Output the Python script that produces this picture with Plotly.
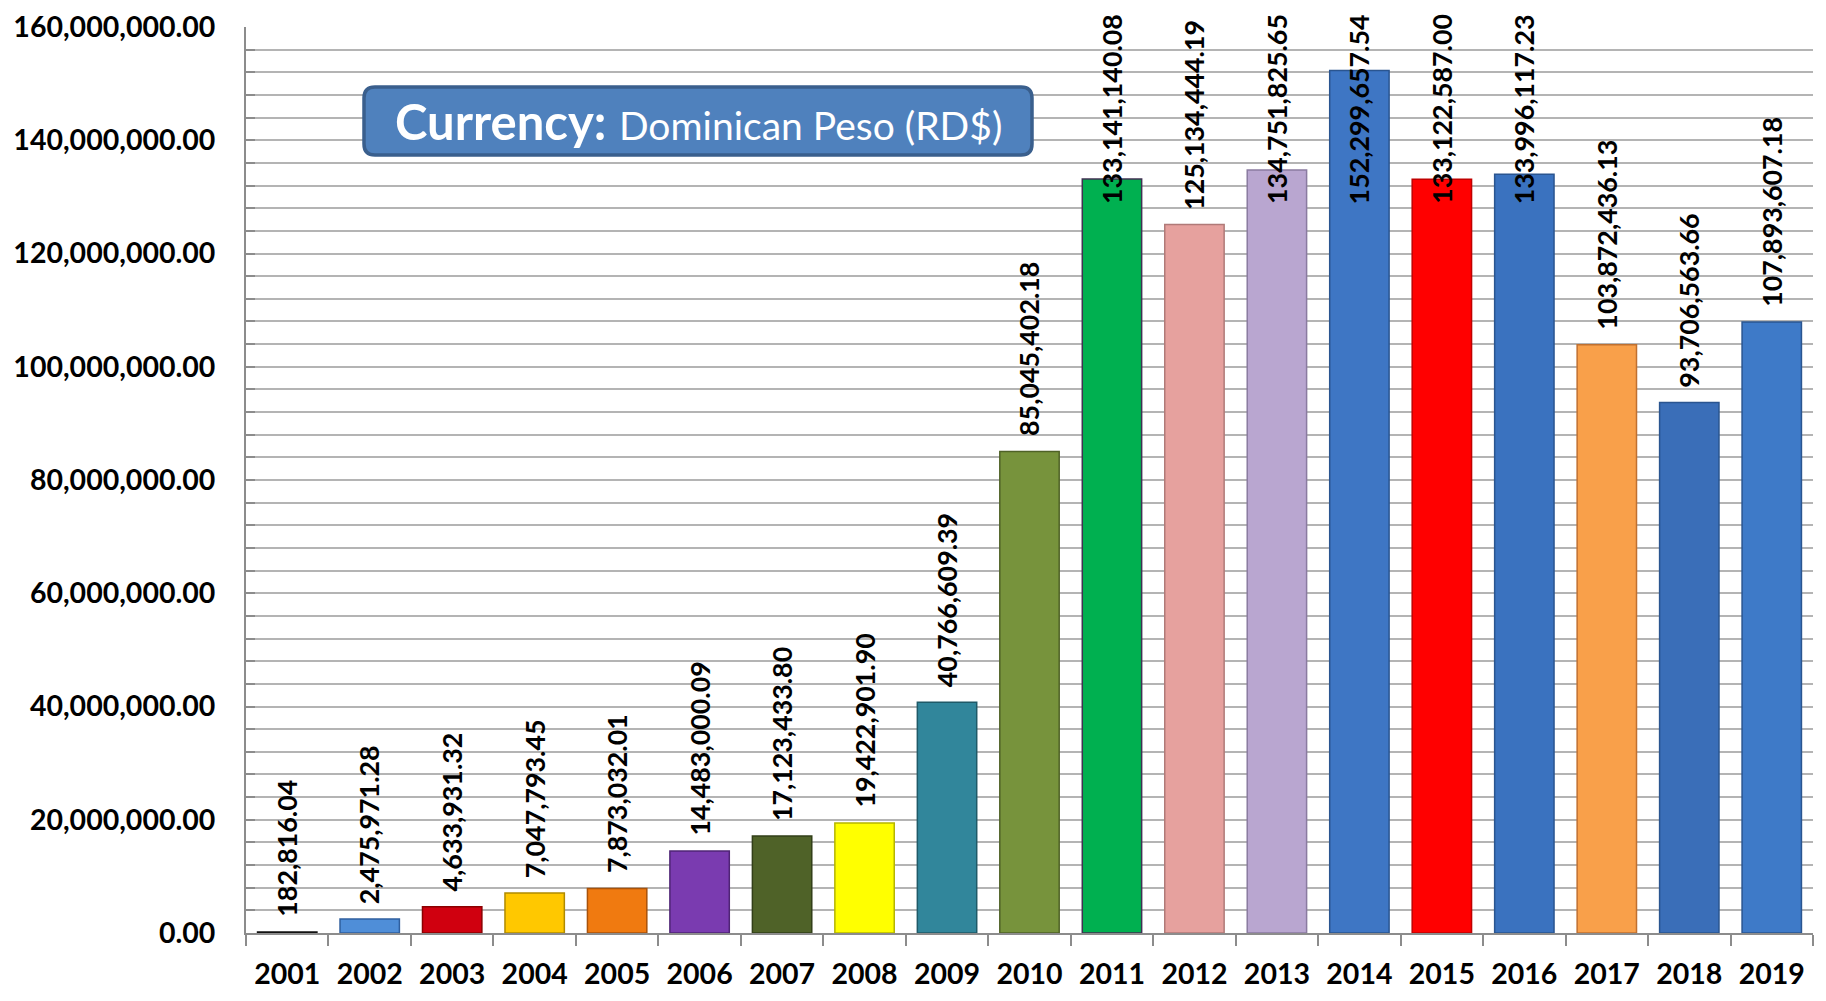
import plotly.graph_objects as go

years = ["2001", "2002", "2003", "2004", "2005", "2006", "2007", "2008", "2009", "2010",
         "2011", "2012", "2013", "2014", "2015", "2016", "2017", "2018", "2019"]
amounts = [182816.04, 2475971.28, 4633931.32, 7047793.45, 7873032.01, 14483000.09,
           17123433.80, 19422901.90, 40766609.39, 85045402.18, 133141140.08,
           125134444.19, 134751825.65, 152299657.54, 133122587.00, 133996117.23,
           103872436.13, 93706563.66, 107893607.18]
bar_colors = ["#262626", "#4F8ED8", "#D0000F", "#FFC800", "#F07A10", "#7A3BB0", "#4F6228",
              "#FFFF00", "#31869B", "#77933C", "#00B050", "#E6A19E", "#B9A6D0", "#3E76C4",
              "#FF0000", "#3A72BF", "#F9A04A", "#3A6EB8", "#3E7AC8"]
edge_colors = ["#111111", "#2F5F9F", "#8B0000", "#B08A00", "#A8520A", "#4F2475", "#323F19",
               "#B5B500", "#1F5A68", "#4F6227", "#403152", "#B07A78", "#8A7BA0", "#2A5590",
               "#C00000", "#2A5590", "#C07030", "#2A5590", "#2A5590"]

# the html page body has an 8px margin, so the figure is drawn 8px in from the window corner
OFF = 8
W, H = 1826 - 2 * OFF, 1001 - 2 * OFF
L, R, T, B = 238, 5, 19, 60
plot_w, plot_h = W - L - R, H - T - B
ymax = 160e6
px_per_unit = plot_h / ymax

fig = go.Figure()
fig.add_trace(go.Bar(
    x=years, y=amounts,
    marker=dict(color=bar_colors, line=dict(color=edge_colors, width=1.5)),
    width=0.72, hoverinfo="x+y"
))

# data labels, pushed down when they would run past the top (like Excel does)
label_size = 26.8
for i, v in enumerate(amounts):
    txt = f"{v:,.2f}"
    n_dig = sum(c.isdigit() for c in txt)
    est_len = label_size * (0.58 * n_dig + 0.29 * (len(txt) - n_dig))
    top_px = T + plot_h - v * px_per_unit - 16 - est_len
    lab_font = dict(family="Lato", size=label_size, color="black", weight="bold")
    if top_px < 6:
        fig.add_annotation(x=i, y=ymax, xanchor="center", yanchor="top", yshift=15, text=txt,
                           textangle=-90, showarrow=False, font=lab_font)
    else:
        fig.add_annotation(x=i, y=v, xanchor="center", yanchor="bottom", yshift=13, text=txt,
                           textangle=-90, showarrow=False, font=lab_font)

# currency box with rounded corners, paper coords (pixel values are figure coords)
bx0, bx1, by0, by1 = 356, 1024, 79, 147
rad = 11
def px(xp):
    return (xp - L) / plot_w
def py(yp):
    return (T + plot_h - yp) / plot_h
rx, ry = rad / plot_w, rad / plot_h
x0, x1, y0, y1 = px(bx0), px(bx1), py(by1), py(by0)
path = (f"M {x0+rx},{y0} L {x1-rx},{y0} Q {x1},{y0} {x1},{y0+ry} "
        f"L {x1},{y1-ry} Q {x1},{y1} {x1-rx},{y1} L {x0+rx},{y1} "
        f"Q {x0},{y1} {x0},{y1-ry} L {x0},{y0+ry} Q {x0},{y0} {x0+rx},{y0} Z")
fig.add_shape(type="path", path=path, xref="paper", yref="paper",
              fillcolor="#4F81BD", line=dict(color="#3A5F8D", width=3.5), layer="above")
fig.add_annotation(x=(x0 + x1) / 2, y=(y0 + y1) / 2, xref="paper", yref="paper",
                   xanchor="center", yanchor="middle",
                   text="<b>Currency:</b> <span style='font-size:39px'>Dominican Peso (RD$)</span>",
                   showarrow=False, font=dict(family="Lato", size=49, color="white"))

fig.update_layout(
    width=W, height=H,
    margin=dict(l=L, r=R, t=T, b=B, autoexpand=False),
    paper_bgcolor="white", plot_bgcolor="white",
    showlegend=False,
    bargap=0.28,
    xaxis=dict(
        type="category", tickson="boundaries", ticks="outside", ticklen=11,
        tickcolor="#8C8C8C", tickwidth=2, tickangle=0,
        showline=True, linecolor="#8C8C8C", linewidth=2,
        showgrid=False, range=[-0.5, len(years) - 0.5],
        ticklabelstandoff=15,
        tickfont=dict(family="Lato", size=28.5, color="black", weight="bold"),
    ),
    yaxis=dict(
        range=[0, ymax], dtick=20e6, tickformat=",.2f",
        ticks="inside", ticklen=9, tickcolor="#8C8C8C", tickwidth=2,
        showline=True, linecolor="#8C8C8C", linewidth=2,
        gridcolor="#B4B4B4", gridwidth=2,
        minor=dict(dtick=4e6, showgrid=True, gridcolor="#B4B4B4", gridwidth=2,
                   ticks="inside", ticklen=9, tickcolor="#8C8C8C"),
        zeroline=False,
        ticklabelstandoff=23, ticklabeloverflow="allow",
        tickfont=dict(family="Lato", size=28.5, color="black", weight="bold"),
    ),
)

fig.write_html("out.html")
